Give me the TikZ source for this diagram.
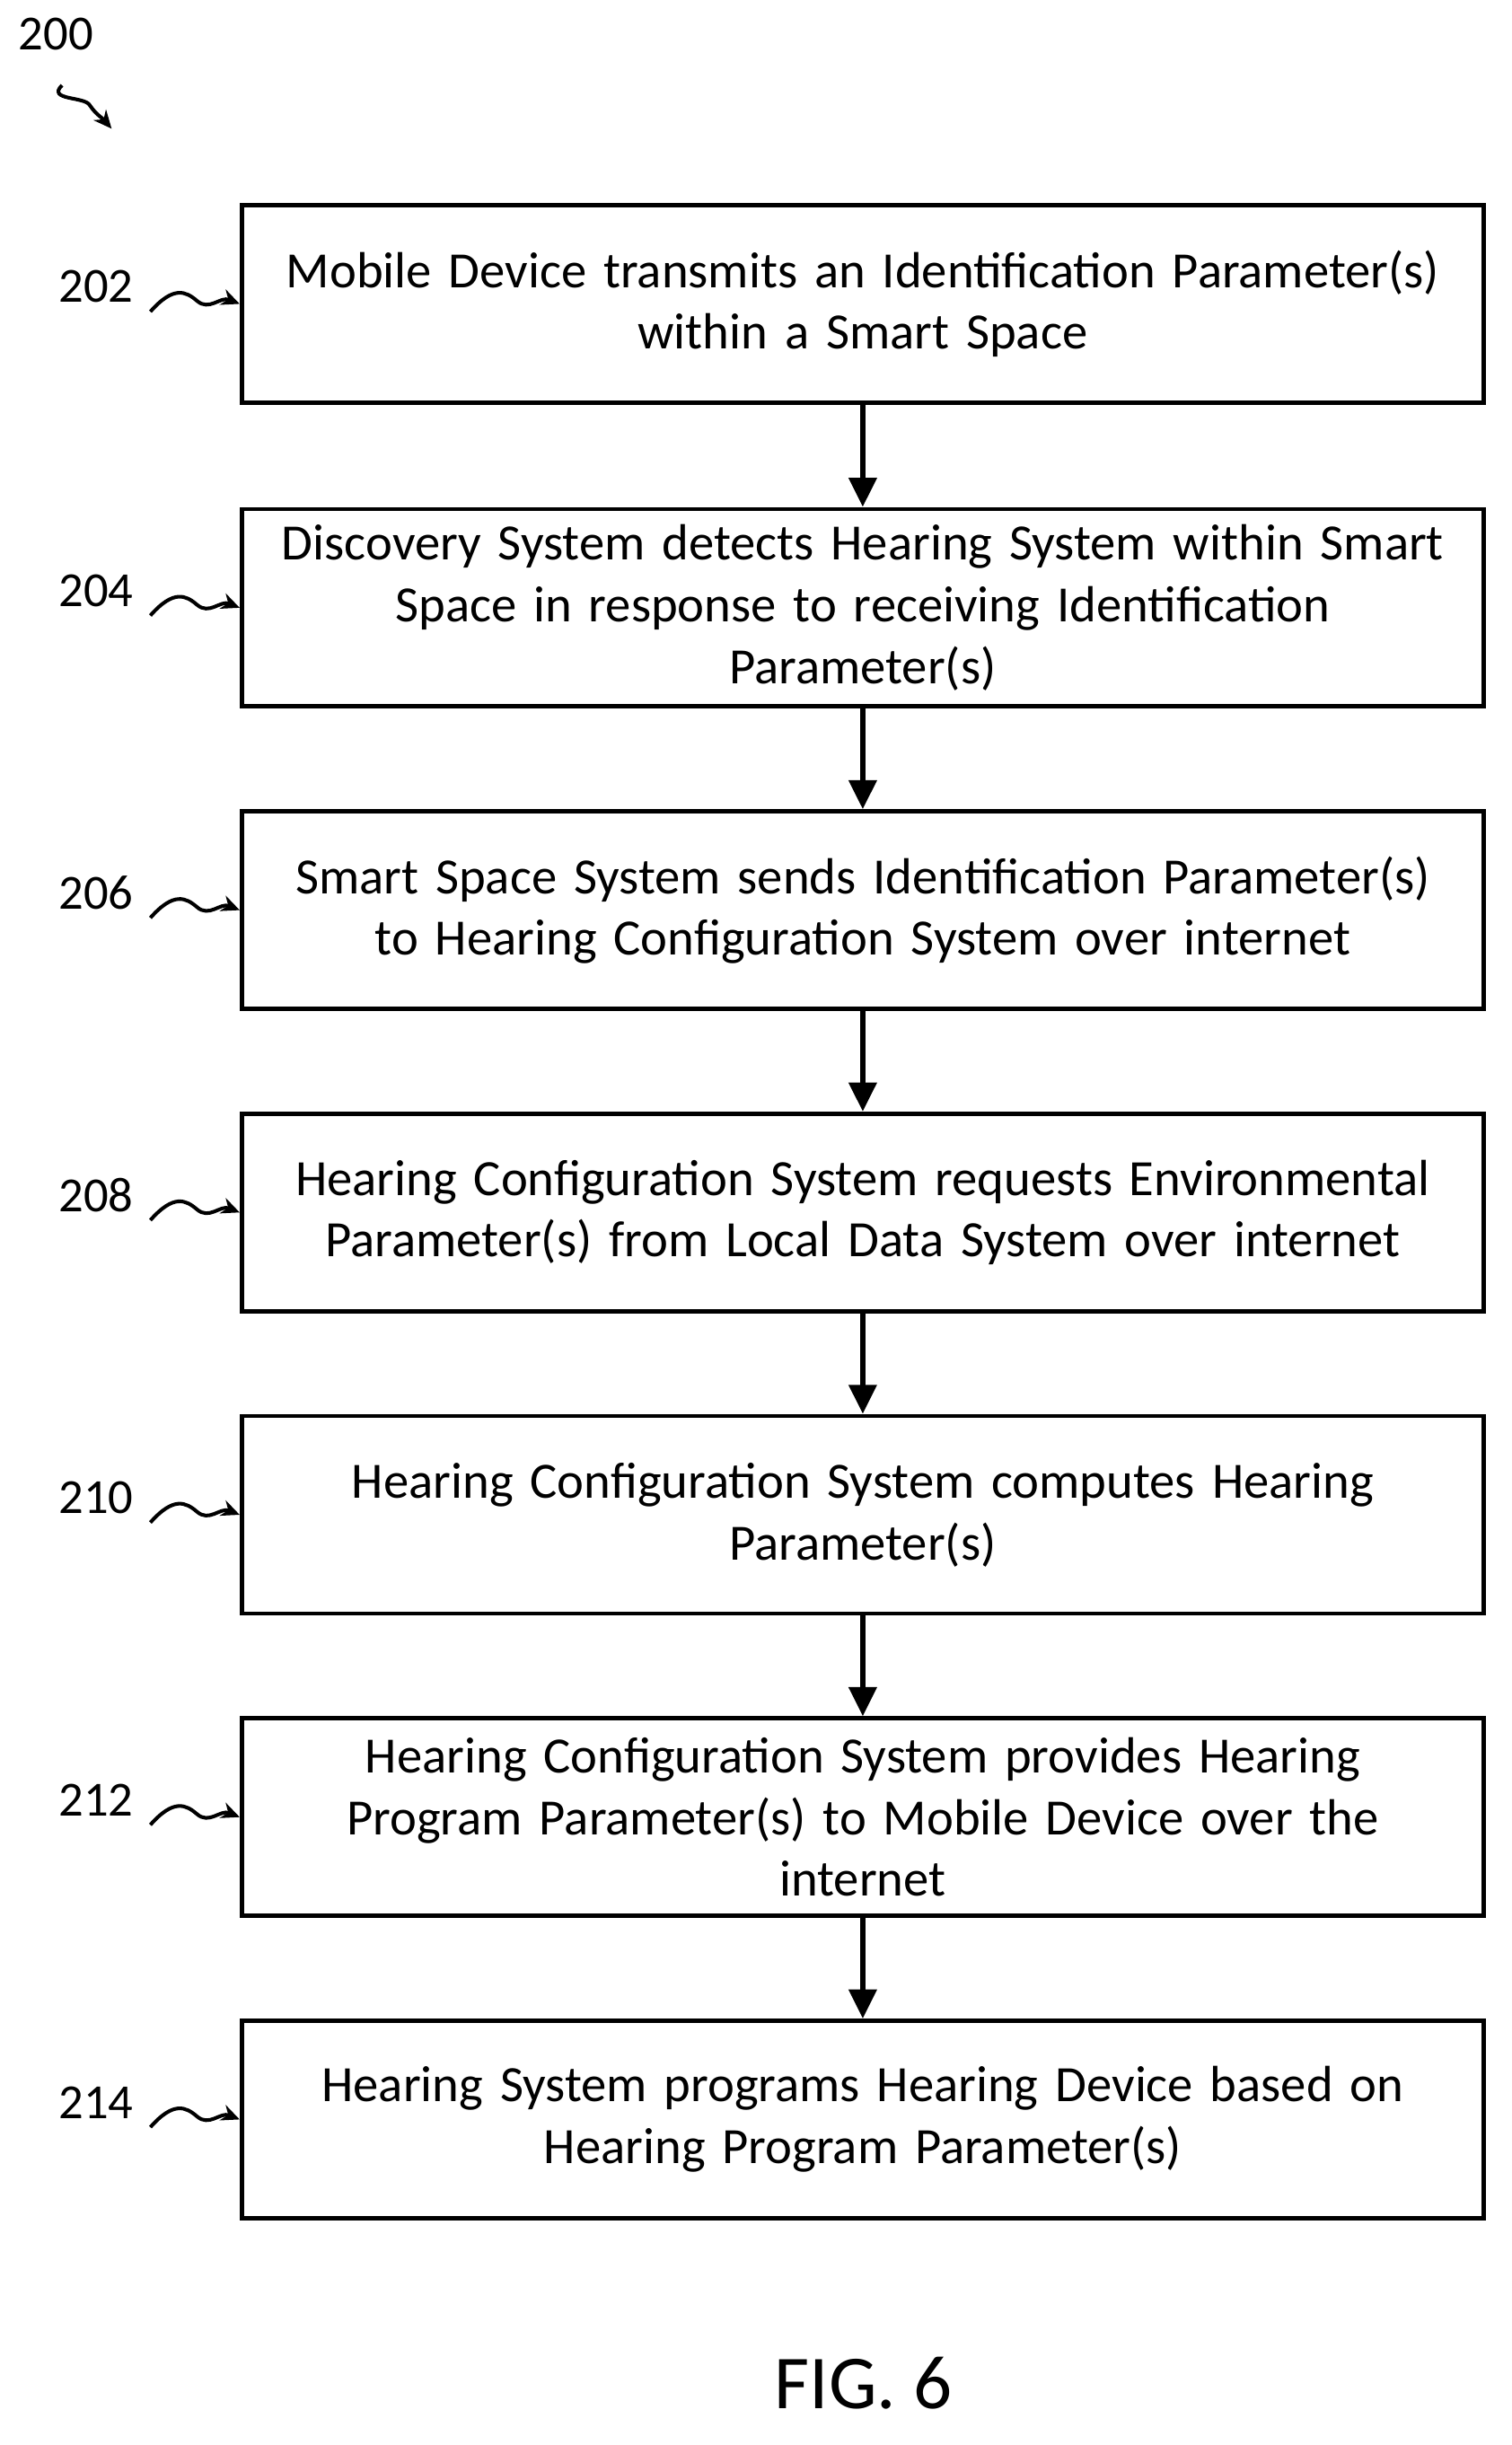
\documentclass[tikz,border=0pt]{standalone}
\usepackage{fontspec}
\setmainfont{Carlito}
\usetikzlibrary{arrows.meta}
\begin{document}
\begin{tikzpicture}[x=0.03cm,y=-0.03cm,
 box/.style={draw,line width=2.4pt,minimum width=24.03cm,minimum height=3.82cm,text width=23.6cm,align=center,inner sep=0pt,font=\fontsize{28}{34}\selectfont},
 lab/.style={font=\fontsize{27}{30}\selectfont},
 flow/.style={-{Triangle[length=16pt,width=15pt]},line width=3pt},
 sq/.style={-{Stealth[length=10pt,width=9pt]},line width=2pt}]
\useasboundingbox (0,0) rectangle (975,1577);
\node[lab] (n200) at (36,22) {200};
\coordinate (s0) at (40,55);
\coordinate (e0) at (72,83);
\draw[sq] (s0) .. controls (30,65) and (55,62) .. (58,68) .. controls (62,74) and (66,76) .. (e0);
\foreach \i/\y/\t in {
 202/196/{Mobile Device transmits an Identification Parameter(s)\\within a Smart Space},
 204/392/{Discovery System detects Hearing System within Smart\\Space in response to receiving Identification\\Parameter(s)},
 206/587/{Smart Space System sends Identification Parameter(s)\\to Hearing Configuration System over internet},
 208/782/{Hearing Configuration System requests Environmental\\Parameter(s) from Local Data System over internet},
 210/977/{Hearing Configuration System computes Hearing\\Parameter(s)},
 212/1172/{Hearing Configuration System provides Hearing\\Program Parameter(s) to Mobile Device over the\\internet},
 214/1367/{Hearing System programs Hearing Device based on\\Hearing Program Parameter(s)}}{
 \node[box] (b\i) at (556.5,\y) {\t};
 \node[lab] (l\i) at (62,\y-11) {\i};
 \coordinate (q\i) at (97,\y+5);
 \draw[sq] (q\i) .. controls (112,\y-12) and (120,\y-8) .. (127,\y-2) .. controls (135,\y+5) and (142,\y-5) .. (b\i.west);
}
\foreach \a/\b in {202/204,204/206,206/208,208/210,210/212,212/214}
 \draw[flow] (b\a.south) -- (b\b.north);
\node[font=\fontsize{42}{46}\selectfont] (fig) at (557,1537) {FIG. 6};
\end{tikzpicture}
\end{document}
